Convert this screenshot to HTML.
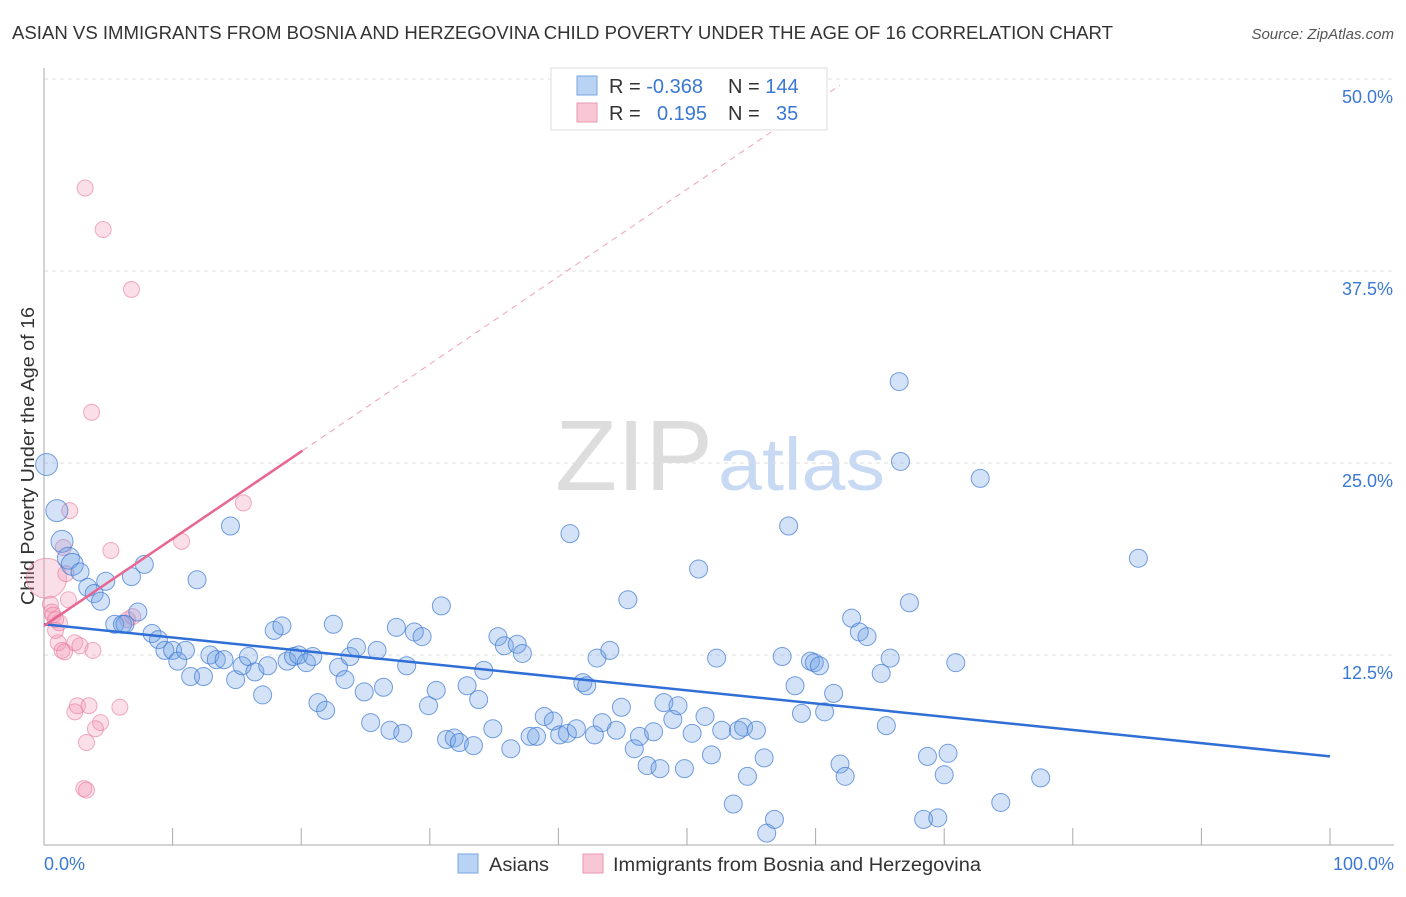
<!DOCTYPE html>
<html><head><meta charset="utf-8"><style>
body{margin:0;background:#fff;font-family:"Liberation Sans",sans-serif;}
svg text{font-family:"Liberation Sans",sans-serif;}
</style></head><body>
<svg id="chart" width="1406" height="892" xmlns="http://www.w3.org/2000/svg">
<text x="12" y="39" font-size="18" fill="#333" textLength="1101" lengthAdjust="spacingAndGlyphs">ASIAN VS IMMIGRANTS FROM BOSNIA AND HERZEGOVINA CHILD POVERTY UNDER THE AGE OF 16 CORRELATION CHART</text>
<text x="1394" y="39" font-size="15" fill="#555" font-style="italic" text-anchor="end">Source: ZipAtlas.com</text>
<text transform="translate(34,456) rotate(-90)" font-size="18" fill="#333" text-anchor="middle" textLength="298" lengthAdjust="spacingAndGlyphs">Child Poverty Under the Age of 16</text>
<g>
<text x="555" y="490" font-size="100" fill="#ddd" font-family="Liberation Serif" textLength="158" lengthAdjust="spacingAndGlyphs">ZIP</text>
<text x="718" y="490" font-size="74" fill="#c8daf3" textLength="167" lengthAdjust="spacingAndGlyphs">atlas</text>
</g>
<g id="grid"></g><g id="axes"></g><g id="pts"></g><g id="trend"></g>
<g>
<rect x="551" y="68" width="276" height="62" fill="#fff" stroke="#ddd"/>
<rect x="577" y="76" width="20" height="19" fill="#b9d3f5" stroke="#7aa6e3"/>
<rect x="577" y="103" width="20" height="19" fill="#f8c6d4" stroke="#eb97b0"/>
<text x="609" y="93" font-size="20" fill="#333">R = <tspan fill="#3a78d4">-0.368</tspan></text>
<text x="728" y="93" font-size="20" fill="#333">N = <tspan fill="#3a78d4">144</tspan></text>
<text x="609" y="120" font-size="20" fill="#333">R = </text><text x="657" y="120" font-size="20" fill="#3a78d4">0.195</text>
<text x="728" y="120" font-size="20" fill="#333">N = </text><text x="776" y="120" font-size="20" fill="#3a78d4">35</text>
</g>
<g>
<rect x="458" y="854" width="20" height="19" fill="#b9d3f5" stroke="#7aa6e3"/>
<text x="489" y="871" font-size="19" fill="#333" textLength="60" lengthAdjust="spacingAndGlyphs">Asians</text>
<rect x="583" y="854" width="20" height="19" fill="#f8c6d4" stroke="#eb97b0"/>
<text x="613" y="871" font-size="19" fill="#333" textLength="368" lengthAdjust="spacingAndGlyphs">Immigrants from Bosnia and Herzegovina</text>
</g>
</svg>
<script>
const yTicks=[12.5,25,37.5,50];
const yTickLabels=["12.5%","25.0%","37.5%","50.0%"];
const xEndLabels=["0.0%","100.0%"];
const asianX=[0.2,1.0,1.4,1.9,2.2,2.8,3.4,3.9,4.4,4.8,6.8,7.8,7.3,5.5,6.1,6.3,8.4,8.9,9.4,10.0,10.4,11.0,11.4,11.9,12.4,12.9,13.4,14.0,14.5,14.9,15.4,15.9,16.4,17.0,17.4,17.9,18.5,18.9,19.4,19.8,20.4,20.9,21.3,21.9,22.5,22.9,23.4,23.8,24.3,24.9,25.4,25.9,26.4,26.9,27.4,27.9,28.2,28.8,29.4,29.9,30.5,30.9,31.3,31.9,32.3,32.9,33.4,33.8,34.2,34.9,35.3,35.8,36.3,36.8,37.2,37.8,38.3,38.9,39.6,40.1,40.7,40.9,41.4,41.9,42.2,42.8,43.0,43.4,44.0,44.5,44.9,45.4,45.9,46.3,46.9,47.4,47.9,48.2,48.9,49.3,49.8,50.4,50.9,51.4,51.9,52.3,52.7,53.6,54.0,54.4,54.7,55.4,56.0,56.2,56.8,57.4,57.9,58.4,58.9,59.6,59.9,60.3,60.7,61.4,61.9,62.3,62.8,63.4,64.0,65.1,65.5,65.8,66.5,66.6,67.3,68.4,68.7,69.5,70.0,70.3,70.9,72.8,74.4,77.5,85.1];
const asianY=[24.9,21.9,19.9,18.8,18.4,17.9,16.9,16.5,16.0,17.3,17.6,18.4,15.3,14.5,14.5,14.5,13.9,13.5,12.8,12.8,12.1,12.8,11.1,17.4,11.1,12.5,12.2,12.2,20.9,10.9,11.8,12.4,11.4,9.9,11.8,14.1,14.4,12.1,12.4,12.5,12.0,12.4,9.4,8.9,14.5,11.7,10.9,12.4,13.0,10.1,8.1,12.8,10.4,7.6,14.3,7.4,11.8,14.0,13.7,9.2,10.2,15.7,7.0,7.1,6.8,10.5,6.6,9.6,11.5,7.7,13.7,13.1,6.4,13.2,12.6,7.2,7.2,8.5,8.2,7.3,7.4,20.4,7.7,10.7,10.5,7.3,12.3,8.1,12.8,7.6,9.1,16.1,6.4,7.2,5.3,7.5,5.1,9.4,8.3,9.2,5.1,7.4,18.1,8.5,6.0,12.3,7.6,2.8,7.6,7.8,4.6,7.6,5.8,0.9,1.8,12.4,20.9,10.5,8.7,12.1,12.0,11.8,8.8,10.0,5.4,4.6,14.9,14.0,13.7,11.3,7.9,12.3,30.3,25.1,15.9,1.8,5.9,1.9,4.7,6.1,12.0,24.0,2.9,4.5,18.8];
const bosX=[0.2,0.5,0.6,0.7,0.9,1.1,1.4,1.6,0.9,1.2,2.0,3.2,4.6,6.8,3.7,15.5,10.7,5.2,1.7,1.9,2.4,2.8,3.8,6.5,6.9,2.6,2.4,3.5,5.9,4.4,4.0,3.3,3.1,3.3,1.5];
const bosY=[17.5,15.8,15.3,15.1,14.8,13.3,12.8,12.7,14.1,14.6,21.9,42.9,40.2,36.3,28.3,22.4,19.9,19.3,17.8,16.1,13.3,13.1,12.8,14.8,15.0,9.2,8.8,9.2,9.1,8.1,7.7,6.8,3.8,3.7,19.5];
const asianTrend=[14.5,5.9];
const bosTrend=[14.4,25.8,49.6];
const bosTrendX=[0,20.1,61.9];

const NS="http://www.w3.org/2000/svg";
const X0=44,X1=1330,Y0=847,Y50=79;
const sx=v=>X0+(X1-X0)*v/100;
const sy=v=>Y0-(Y0-Y50)*v/50;
function mk(tag,attrs,parent){const e=document.createElementNS(NS,tag);for(const k in attrs)e.setAttribute(k,attrs[k]);parent.appendChild(e);return e;}
const grid=document.getElementById('grid'),axes=document.getElementById('axes'),pts=document.getElementById('pts'),trend=document.getElementById('trend');
yTicks.forEach((t,i)=>{
 const l=mk('line',{x1:X0,x2:1394,y1:sy(t),y2:sy(t),stroke:'#ddd','stroke-dasharray':'4,4'},grid);
 
 
 const tx=mk('text',{x:1393,y:sy(t)+24,'font-size':18,fill:'#3a78d4','text-anchor':'end'},grid);
 tx.textContent=yTickLabels[i];
 
 
});
const ax=mk('line',{x1:X0,x2:X0,y1:68,y2:845,stroke:'#aaa'},axes);


const bx=mk('line',{x1:X0,x2:1394,y1:845,y2:845,stroke:'#aaa'},axes);


for(let i=0;i<=10;i++){
 const t=mk('line',{x1:sx(i*10),x2:sx(i*10),y1:828,y2:845,stroke:'#aaa'},axes);
 
 
}
[[0,'start',44],[100,'end',1394]].forEach((d,i)=>{
 const t=mk('text',{x:d[2],y:870,'font-size':18,fill:'#3a78d4','text-anchor':d[1]},axes);
 t.textContent=xEndLabels[i];
 
 
});
bosX.forEach((x,i)=>{
 const c=mk('circle',{cx:sx(x),cy:sy(bosY[i]),r:i==0?20:8,fill:'rgba(242,150,180,0.3)',stroke:'rgba(232,120,155,0.6)'},pts);
 
 
});
asianX.forEach((x,i)=>{
 const c=mk('circle',{cx:sx(x),cy:sy(asianY[i]),r:i<5?11:9,fill:'rgba(110,160,230,0.3)',stroke:'rgba(60,120,210,0.7)'},pts);
 
 
});
const bl=mk('line',{x1:sx(0),y1:sy(asianTrend[0]),x2:sx(100),y2:sy(asianTrend[1]),stroke:'#2f6fd6','stroke-width':2.5},trend);


const pl=mk('line',{x1:sx(bosTrendX[0]),y1:sy(bosTrend[0]),x2:sx(bosTrendX[1]),y2:sy(bosTrend[1]),stroke:'#e8668f','stroke-width':2.5},trend);


const pd=mk('line',{x1:sx(bosTrendX[1]),y1:sy(bosTrend[1]),x2:sx(bosTrendX[2]),y2:sy(bosTrend[2]),stroke:'#f0a0b8','stroke-width':1,'stroke-dasharray':'6,5'},trend);


</script>
</body></html>
